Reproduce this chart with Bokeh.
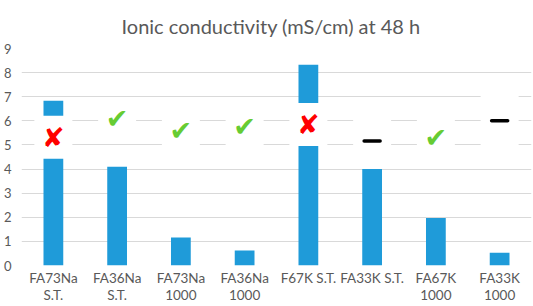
from bokeh.plotting import figure
from bokeh.embed import file_html
from bokeh.resources import INLINE
from bokeh.models import ColumnDataSource, Range1d, FactorRange, FixedTicker
from bokeh.core.properties import value

title_text = "Ionic conductivity (mS/cm) at 48 h"
categories = ["FA73Na\nS.T.", "FA36Na\nS.T.", "FA73Na\n1000", "FA36Na\n1000",
              "F67K S.T.", "FA33K S.T.", "FA67K\n1000", "FA33K\n1000"]
conductivity = [6.83, 4.10, 1.16, 0.62, 8.33, 4.00, 1.97, 0.53]
label_value = [5.32, 6.09, 5.60, 5.77, 5.85, 5.16, 5.32, 6.00]
label_kind = ["fail", "pass", "pass", "pass", "fail", "neutral", "pass", "neutral"]
y_ticks = [0, 1, 2, 3, 4, 5, 6, 7, 8, 9]

GRAY = "#595959"
BLUE = "#1F9BD9"
symbol_text = {"fail": "\u2718", "pass": "\u2714", "neutral": ""}
symbol_color = {"fail": "#FF0000", "pass": "#66CC33", "neutral": "#000000"}
box_h = {"fail": 43, "pass": 43, "neutral": 54}

p = figure(width=533, height=306, output_backend="svg", toolbar_location=None,
           x_range=FactorRange(*categories, range_padding=0),
           y_range=Range1d(0, 9),
           min_border_left=21, min_border_right=2, min_border_top=42,
           min_border_bottom=41)
p.outline_line_color = None
p.background_fill_color = "white"
p.border_fill_color = "white"

p.title.text = title_text
p.title.align = "left"
p.title.offset = 100
p.title.text_font = "Lato"
p.title.text_font_size = "20px"
p.title.text_font_style = "normal"
p.title.text_color = GRAY
p.title.standoff = 22

p.ygrid.grid_line_color = "#D9D9D9"
p.ygrid.grid_line_width = 1
p.xgrid.grid_line_color = None

p.yaxis.ticker = FixedTicker(ticks=y_ticks)
p.yaxis.axis_line_color = None
p.yaxis.major_tick_line_color = None
p.yaxis.major_tick_out = 0
p.yaxis.major_tick_in = 0
p.yaxis.minor_tick_line_color = None
p.yaxis.major_label_standoff = 10
p.yaxis.major_label_text_font = "Lato"
p.yaxis.major_label_text_font_size = "13px"
p.yaxis.major_label_text_color = GRAY

p.xaxis.axis_line_color = None
p.xaxis.major_tick_line_color = None
p.xaxis.major_tick_out = 0
p.xaxis.major_tick_in = 0
p.xaxis.major_label_standoff = 4
p.xaxis.major_label_text_font = "Lato"
p.xaxis.major_label_text_font_size = "13.5px"
p.xaxis.major_label_text_color = GRAY
p.xaxis.major_label_text_line_height = 1.1

src = ColumnDataSource(dict(
    cat=categories, val=conductivity, lab=label_value,
    bh=[box_h[k] for k in label_kind],
))

p.vbar(x="cat", top="val", width=0.31, source=src, fill_color=BLUE, line_color=None)

p.rect(x="cat", y="lab", width=38, height="bh", width_units="screen",
       height_units="screen", source=src, fill_color="white", line_color=None)

sym_src = ColumnDataSource(dict(
    cat=[c for c, k in zip(categories, label_kind) if k != "neutral"],
    lab=[v for v, k in zip(label_value, label_kind) if k != "neutral"],
    sym=[symbol_text[k] for k in label_kind if k != "neutral"],
    col=[symbol_color[k] for k in label_kind if k != "neutral"],
))
p.text(x="cat", y="lab", text="sym", source=sym_src, text_color="col",
       text_font=value("DejaVu Sans"), text_font_size="27px",
       text_align="center", text_baseline="middle")

dash_src = ColumnDataSource(dict(
    cat=[c for c, k in zip(categories, label_kind) if k == "neutral"],
    lab=[v for v, k in zip(label_value, label_kind) if k == "neutral"],
))
p.scatter(x="cat", y="lab", source=dash_src, marker="dash", size=16,
          line_color="black", line_width=3.5, line_cap="round")

open("out.html", "w").write(file_html(p, INLINE))
